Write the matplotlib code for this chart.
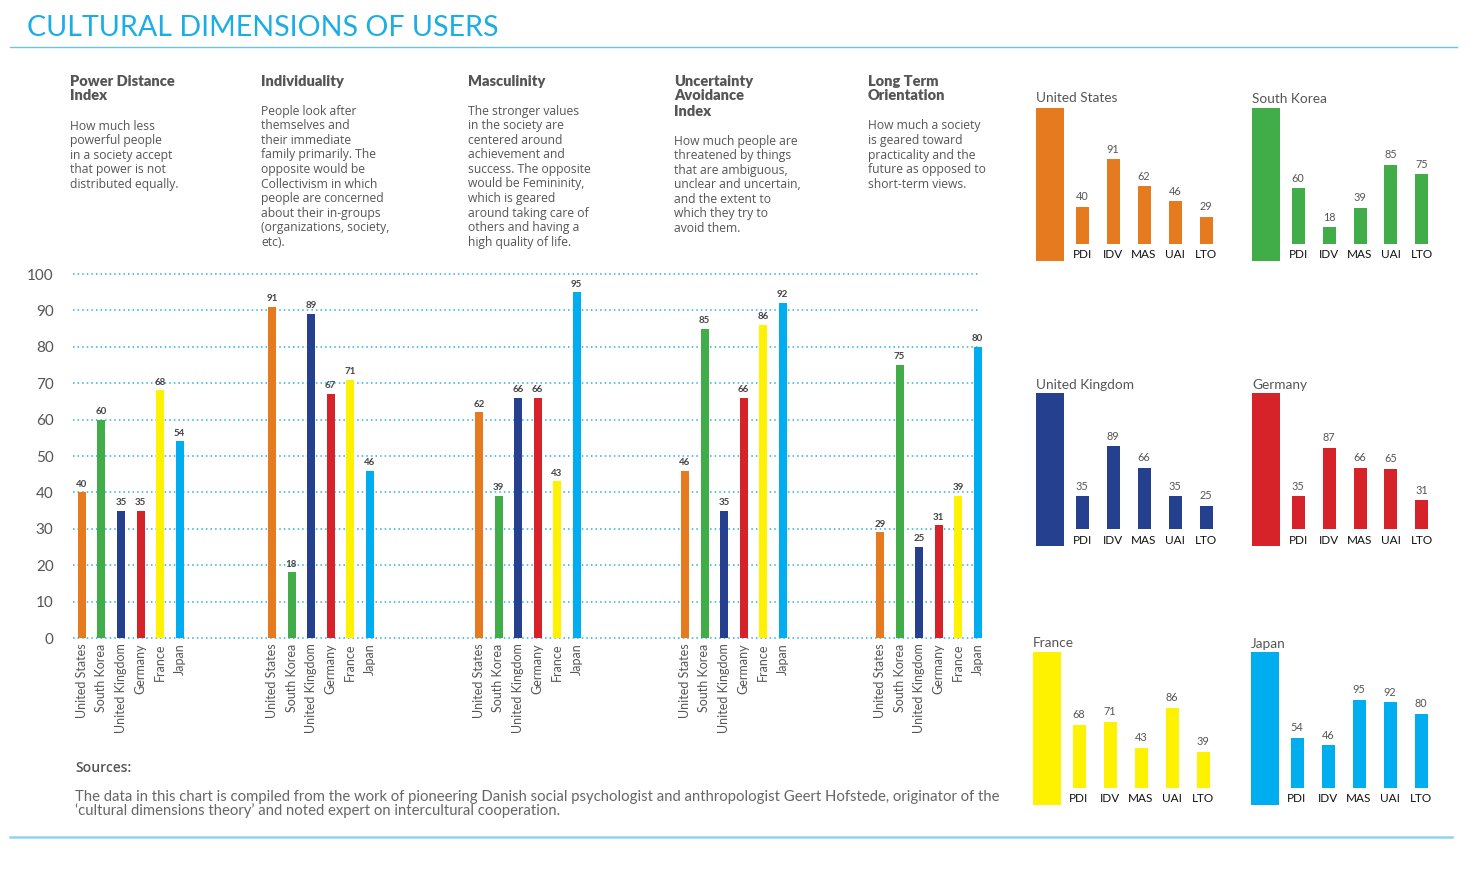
import matplotlib
matplotlib.use("Agg")
import matplotlib.pyplot as plt
from matplotlib.patches import Rectangle

# ---------------- data ----------------
countries = ["United States", "South Korea", "United Kingdom", "Germany", "France", "Japan"]
colors = ["#E57A1F", "#41AD49", "#25408F", "#D6232A", "#FFF200", "#00AEEF"]
dim_codes = ["PDI", "IDV", "MAS", "UAI", "LTO"]

pdi = [40, 60, 35, 35, 68, 54]
idv = [91, 18, 89, 67, 71, 46]
mas = [62, 39, 66, 66, 43, 95]
uai = [46, 85, 35, 66, 86, 92]
lto = [29, 75, 25, 31, 39, 80]
main_values = [pdi, idv, mas, uai, lto]

# country profiles shown in the small panels
us_profile = [40, 91, 62, 46, 29]
sk_profile = [60, 18, 39, 85, 75]
uk_profile = [35, 89, 66, 35, 25]
de_profile = [35, 87, 66, 65, 31]
fr_profile = [68, 71, 43, 86, 39]
jp_profile = [54, 46, 95, 92, 80]
profiles = [us_profile, sk_profile, uk_profile, de_profile, fr_profile, jp_profile]

y_ticks = [0, 10, 20, 30, 40, 50, 60, 70, 80, 90, 100]

headers = [
    ["Power Distance", "Index"],
    ["Individuality"],
    ["Masculinity"],
    ["Uncertainty", "Avoidance", "Index"],
    ["Long Term", "Orientation"],
]
bodies = [
    ["How much less", "powerful people", "in a society accept", "that power is not",
     "distributed equally."],
    ["People look after", "themselves and", "their immediate", "family primarily. The",
     "opposite would be", "Collectivism in which", "people are concerned",
     "about their in-groups", "(organizations, society,", "etc)."],
    ["The stronger values", "in the society are", "centered around", "achievement and",
     "success. The opposite", "would be Femininity,", "which is geared",
     "around taking care of", "others and having a", "high quality of life."],
    ["How much people are", "threatened by things", "that are ambiguous,",
     "unclear and uncertain,", "and the extent to", "which they try to", "avoid them."],
    ["How much a society", "is geared toward", "practicality and the",
     "future as opposed to", "short-term views."],
]

# ---------------- layout ----------------
W, H = 1476, 869
fig = plt.figure(figsize=(W / 100, H / 100), dpi=100)
fig.patch.set_facecolor("white")

SANS = ["Lato", "DejaVu Sans"]
BODY = ["Open Sans", "DejaVu Sans"]


def px_axes(x0, y0, x1, y1, **kw):
    return fig.add_axes([x0 / W, 1 - y1 / H, (x1 - x0) / W, (y1 - y0) / H], **kw)


bg = fig.add_axes([0, 0, 1, 1])
bg.set_xlim(0, W)
bg.set_ylim(H, 0)
bg.axis("off")

# title and rules
bg.text(27, 27.5, "CULTURAL DIMENSIONS OF USERS", fontsize=20.6, color="#1AAEE5",
        family=SANS, weight="normal", va="center", ha="left")
bg.plot([10, 1457], [47, 47], color="#6CC4EA", lw=1)
bg.plot([10, 1452], [837, 837], color="#92D2EF", lw=1.8)

# descriptions
col_x = [70, 261, 468, 674, 868]
for hx, hdr, body in zip(col_x, headers, bodies):
    y = 81
    for line in hdr:
        bg.text(hx, y, line, fontsize=10.5, weight="heavy", color="#555555",
                family=SANS, va="center", ha="left")
        y += 15
    y += 15
    for line in body:
        bg.text(hx, y, line, fontsize=8.7, color="#555555", family=BODY,
                va="center", ha="left")
        y += 14.6

# sources
bg.text(75, 768, "Sources:", fontsize=10, weight="semibold", color="#555555",
        family=BODY, va="center", ha="left")
bg.text(75, 797, "The data in this chart is compiled from the work of pioneering Danish social "
        "psychologist and anthropologist Geert Hofstede, originator of the",
        fontsize=10.7, color="#666666", family=SANS, va="center", ha="left")
bg.text(75, 811, "\u2018cultural dimensions theory\u2019 and noted expert on intercultural cooperation.",
        fontsize=10.7, color="#666666", family=SANS, va="center", ha="left")

# ---------------- main chart ----------------
ax = px_axes(73, 274, 985, 638)
ax.set_xlim(73, 985)
ax.set_ylim(0, 100)
for s in ax.spines.values():
    s.set_visible(False)
ax.set_facecolor("none")

group_start = [82, 272, 479, 685, 880]
step = 19.5
for t in y_ticks:
    ax.axhline(t, xmin=0, xmax=(978 - 73) / (985 - 73), color="#2AAFE3",
               linestyle=(0, (1, 2)), lw=1.1, clip_on=False, zorder=0)

xs_all, lab_all = [], []
for g, vals in enumerate(main_values):
    xs = [group_start[g] + i * step for i in range(len(countries))]
    ax.bar(xs, vals, width=8, color=colors, zorder=2)
    for x, v in zip(xs, vals):
        ax.text(x, v + 1.0, str(v), ha="center", va="bottom", fontsize=7,
                color="#444444", family=SANS, weight="bold", zorder=3)
    xs_all += xs
    lab_all += countries

ax.set_xticks(xs_all)
ax.set_xticklabels(lab_all, rotation=90, fontsize=9, color="#555555", family=SANS)
ax.set_yticks(y_ticks)
ax.set_yticklabels([str(t) for t in y_ticks], fontsize=11, color="#555555", family=SANS)
ax.tick_params(axis="x", length=0, pad=4)
ax.tick_params(axis="y", length=0, pad=14)

# ---------------- small panels ----------------
# (big-bar left x, baseline y, title y)
panel_pos = [(1036, 244, 98), (1252, 244, 99), (1036, 529, 385),
             (1252, 529, 385), (1033, 788, 643), (1251, 788, 644)]
scale = 0.93  # px per unit
for (bx, base, ty), name, col, prof in zip(panel_pos, countries, colors, profiles):
    pa = px_axes(bx - 5, base - 150, bx + 200, base + 25)
    pa.set_xlim(-5, 200)
    pa.set_ylim(-25 / scale, 150 / scale)
    pa.axis("off")
    # colour block
    pa.add_patch(Rectangle((0, -17 / scale), 28, 153 / scale, color=col, lw=0))
    xs = [46 + 31 * i for i in range(len(dim_codes))]
    pa.bar(xs, prof, width=13, color=col)
    for x, v, code in zip(xs, prof, dim_codes):
        pa.text(x, v + 5, str(v), ha="center", va="bottom", fontsize=7.8,
                color="#555555", family=SANS)
        pa.text(x, -11 / scale, code, ha="center", va="center", fontsize=8.5,
                color="#111111", family=SANS)
    bg.text(bx, ty, name, fontsize=9.8, color="#555555", family=SANS,
            va="center", ha="left")

fig.savefig("out.png", dpi=100, facecolor="white")
